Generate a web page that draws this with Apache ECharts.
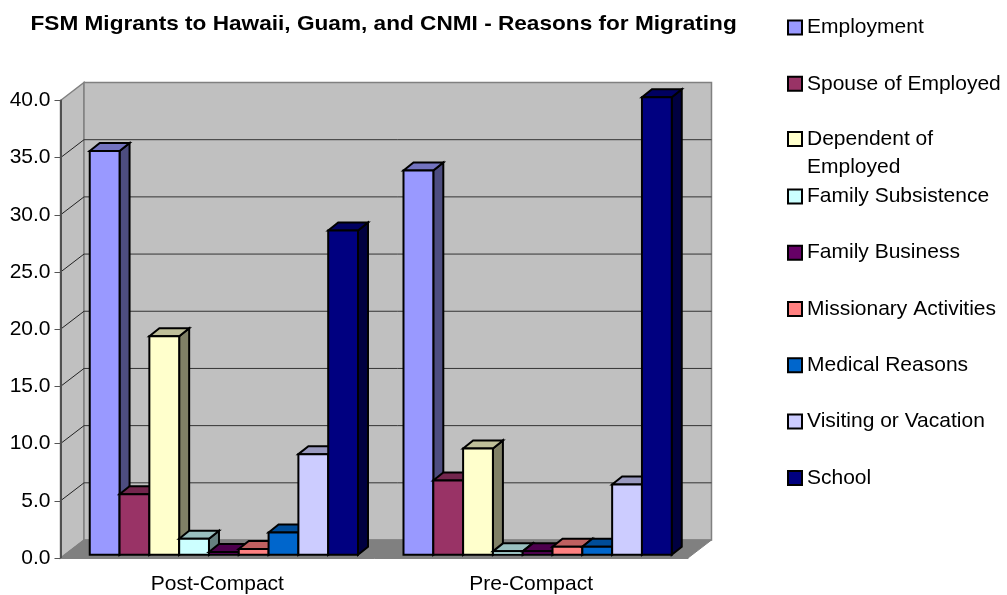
<!DOCTYPE html>
<html>
<head>
<meta charset="utf-8">
<style>html,body{margin:0;padding:0;background:#fff}#c{width:1007px;height:595px}</style>
<script src="https://cdn.jsdelivr.net/npm/echarts@6/dist/echarts.min.js"></script>
</head>
<body>
<div id="c"></div>
<script>
var titleText = 'FSM Migrants to Hawaii, Guam, and CNMI - Reasons for Migrating';
var categories = ['Post-Compact', 'Pre-Compact'];
var names = ['Employment','Spouse of Employed','Dependent of\nEmployed','Family Subsistence','Family Business','Missionary Activities','Medical Reasons','Visiting or Vacation','School'];
var colors = ['#9999FF','#993366','#FFFFCC','#CCFFFF','#660066','#FF8080','#0066CC','#CCCCFF','#000080'];
var postCompact = [35.3, 5.3, 19.1, 1.4, 0.25, 0.5, 1.95, 8.8, 28.35];
var preCompact  = [33.6, 6.5, 9.3, 0.3, 0.3, 0.7, 0.7, 6.15, 40.0];
var yTicks = [0,5,10,15,20,25,30,35,40];

var FONT = '"Liberation Sans", Arial, sans-serif';
var WALL_DX = 23.5, WALL_DY = 18, BAR_DX = 10, BAR_DY = 8;
var BAR_W_RATIO = 0.095, GROUP_SHIFT_X = 6.5, GROUP_SHIFT_Y = -3.2;

function shade(hex, f){
  var n = parseInt(hex.slice(1),16);
  var r = Math.round((n>>16&255)*f), g = Math.round((n>>8&255)*f), b = Math.round((n&255)*f);
  return 'rgb('+r+','+g+','+b+')';
}
function poly(pts, fill, stroke, lw){
  return {type:'polygon', shape:{points:pts}, style:{fill:fill, stroke:stroke, lineWidth:lw, lineJoin:'miter'}};
}
function line(x1,y1,x2,y2,color,lw){
  return {type:'line', shape:{x1:x1,y1:y1,x2:x2,y2:y2}, style:{stroke:color, lineWidth:lw, fill:null}};
}
function renderWalls(params, api){
  var band = api.size([1,0])[0];
  var p0 = api.coord([0,0]), pTop = api.coord([0,40]);
  var xL = p0[0]-band/2, xR = api.coord([1,0])[0]+band/2, yB = p0[1], yT = pTop[1];
  var ch = [
    poly([[xL,yB],[xL+WALL_DX,yB-WALL_DY],[xL+WALL_DX,yT-WALL_DY],[xL,yT]],'#C0C0C0','#808080',1.5),
    poly([[xL+WALL_DX,yB-WALL_DY],[xR+WALL_DX,yB-WALL_DY],[xR+WALL_DX,yT-WALL_DY],[xL+WALL_DX,yT-WALL_DY]],'#C0C0C0','#808080',1.5),
    poly([[xL,yB],[xL+WALL_DX,yB-WALL_DY],[xR+WALL_DX,yB-WALL_DY],[xR,yB]],'#808080','#808080',1)
  ];
  yTicks.forEach(function(t){
    if(t===0||t===40) return;
    var y = api.coord([0,t])[1];
    ch.push(line(xL,y,xL+WALL_DX,y-WALL_DY,'#222',1));
    ch.push(line(xL+WALL_DX,y-WALL_DY,xR+WALL_DX,y-WALL_DY,'#333',1));
  });
  return {type:'group', children:ch};
}
function barRenderer(i){
  return function(params, api){
    var c = api.value(0), v = api.value(1);
    var band = api.size([1,0])[0], w = band*BAR_W_RATIO;
    var cx = api.coord([c,0])[0] + GROUP_SHIFT_X;
    var base = api.coord([c,0])[1] + GROUP_SHIFT_Y;
    var top = api.coord([c,v])[1] + GROUP_SHIFT_Y;
    var l = cx + (i-4.5)*w, r = l+w;
    var col = colors[i];
    return {type:'group', children:[
      poly([[r,base],[r+BAR_DX,base-BAR_DY],[r+BAR_DX,top-BAR_DY],[r,top]],shade(col,0.5),'#000',2),
      poly([[l,top],[l+BAR_DX,top-BAR_DY],[r+BAR_DX,top-BAR_DY],[r,top]],shade(col,0.75),'#000',2),
      poly([[l,base],[r,base],[r,top],[l,top]],col,'#000',2)
    ]};
  };
}
var series = [{
  type:'custom', name:'walls', silent:true, z:0, clip:false,
  renderItem:renderWalls, data:[[0,0]], encode:{x:0,y:1}, animation:false
}];
names.forEach(function(n,i){
  series.push({
    type:'custom', name:n, z:2+i, clip:false, animation:false,
    renderItem:barRenderer(i),
    itemStyle:{color:colors[i]},
    encode:{x:0,y:1},
    data:[[0,postCompact[i]],[1,preCompact[i]]]
  });
});
var legends = names.map(function(n,i){
  var multi = n.indexOf('\n')>=0;
  return {
    data:[n], left:787, top: 13.5 + i*56.3 - (multi?29:0), orient:'vertical',
    selectedMode:false, padding:0, icon:'rect', itemWidth:14, itemHeight:14, itemGap:0,
    itemStyle:{borderColor:'#000', borderWidth:2},
    formatter:function(t){ return t.indexOf('\n')>=0 ? '\n'+t : t; },
    textStyle:{fontFamily:FONT, fontSize:21, color:'#000', lineHeight:28}
  };
});
var chart = echarts.init(document.getElementById('c'), null, {renderer:'canvas'});
chart.setOption({
  animation:false,
  backgroundColor:'#fff',
  graphic:[{type:'text', x:30.5, y:24, scaleX:1.077, silent:true,
    style:{text:titleText, fontFamily:FONT, fontSize:21, fontWeight:'bold', fill:'#000', verticalAlign:'middle', align:'left'}}],
  legend:legends,
  grid:{left:60.5, top:100.5, width:627.5, height:458, containLabel:false},
  xAxis:{type:'category', data:categories, z:5,
    axisLine:{lineStyle:{color:'#808080',width:1}},
    axisTick:{alignWithLabel:false, length:7, lineStyle:{color:'#666',width:1}},
    axisLabel:{fontFamily:FONT, fontSize:21, color:'#000', margin:16}},
  yAxis:{type:'value', min:0, max:40, interval:5, z:5,
    splitLine:{show:false},
    axisLine:{show:true, lineStyle:{color:'#505050',width:2}},
    axisTick:{show:true, length:6, lineStyle:{color:'#555',width:1}},
    axisLabel:{fontFamily:FONT, fontSize:21, color:'#000', margin:10, formatter:function(v){return v.toFixed(1);}}},
  series:series
});
</script>
</body>
</html>
